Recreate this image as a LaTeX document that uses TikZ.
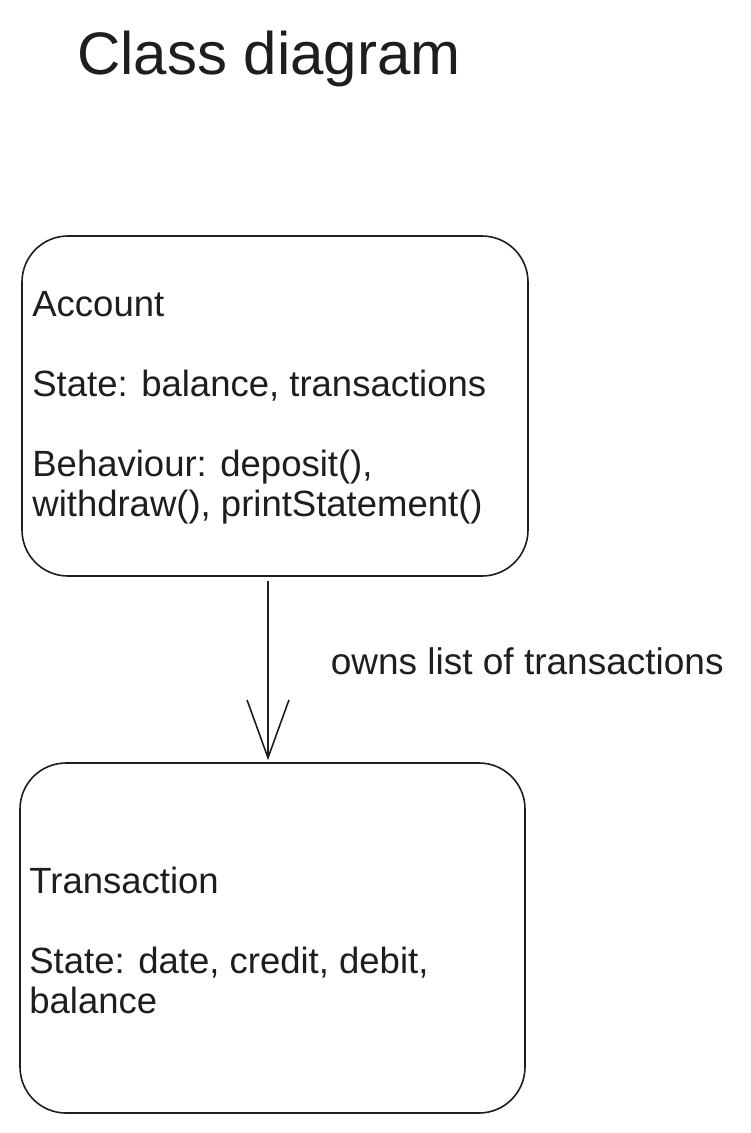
\documentclass[tikz,border=0pt]{standalone}
\usepackage{fontspec}
\setmainfont{Liberation Sans}
\usetikzlibrary{arrows.meta}
\definecolor{ink}{HTML}{1E1E1E}
\tikzset{
  classbox/.style={draw=ink, line width=1.6pt, rounded corners=46pt, inner sep=0pt},
  classtext/.style={anchor=west, align=left, inner sep=0pt, text=ink,
    font=\fontsize{36.5}{40}\selectfont},
  assoc/.style={draw=ink, line width=1.6pt,
    -{Straight Barb[length=58pt, width=42pt, line width=1.6pt]}},
  lbl/.style={text=ink, inner sep=0pt, font=\fontsize{37}{40}\selectfont},
}
\begin{document}
\begin{tikzpicture}[x=1pt,y=1pt]
\useasboundingbox[fill=white] (0,0) rectangle (750,-1133);

\node[lbl, anchor=base west, font=\fontsize{60}{64}\selectfont] (title) at (77,-74) {Class diagram};

\node[classbox, minimum width=506pt, minimum height=340pt] (acc) at (275,-406) {};
\node[classtext] (acctxt) at ([xshift=11pt,yshift=-2pt]acc.west)
  {Account\\[40pt]State: balance, transactions\\[40pt]Behaviour: deposit(),\\withdraw(), printStatement()};

\node[classbox, minimum width=505pt, minimum height=350pt] (tr) at (272.5,-938) {};
\node[classtext] (trtxt) at ([xshift=10pt,yshift=-2pt]tr.west)
  {Transaction\\[40pt]State: date, credit, debit,\\balance};

\draw[assoc] ([xshift=-7pt,yshift=-4pt]acc.south) -- ([xshift=-4.5pt,yshift=2pt]tr.north)
  node[lbl, pos=0.45, anchor=west, xshift=62pt] (own) {owns list of transactions};
\end{tikzpicture}
\end{document}
